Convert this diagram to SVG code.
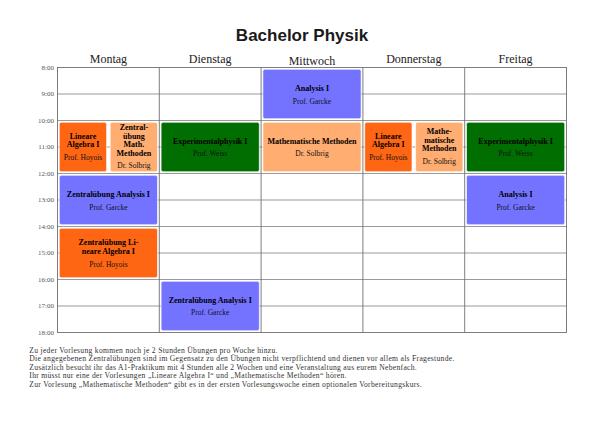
<svg xmlns="http://www.w3.org/2000/svg" width="605" height="428" viewBox="0 0 605 428">
<style>
.title{font-family:"Liberation Sans",Arial,sans-serif;font-weight:bold;font-size:17px;fill:#1a1a1a;text-anchor:middle}
.day{font-family:"Liberation Serif","Times New Roman",serif;font-size:12px;fill:#222;text-anchor:middle}
.time{font-family:"Liberation Serif","Times New Roman",serif;font-size:7px;fill:#555;text-anchor:end}
.hl{stroke:#9a9a9a;stroke-width:1.2;fill:none}
.vl{stroke:#707070;stroke-width:0.9;fill:none}
.ev{stroke:#ffffff;stroke-width:0.8;stroke-opacity:0.8}
.blue{fill:#7373ff}
.orange{fill:#ff6614}
.lorange{fill:#ffad70}
.green{fill:#006e00}
.t{font-family:"Liberation Serif","Times New Roman",serif;font-weight:bold;font-size:8px;fill:#000;text-anchor:middle}
.p{font-family:"Liberation Serif","Times New Roman",serif;font-size:7.5px;fill:#111;text-anchor:middle}
.note{font-family:"Liberation Serif","Times New Roman",serif;font-size:7.6px;letter-spacing:0.3px;fill:#333}
</style>
<rect width="605" height="428" fill="#ffffff"/>
<text class="title" x="302" y="40.7">Bachelor Physik</text>

<g id="headers">
<text class="day" x="108.4" y="63.3">Montag</text>
<text class="day" x="210.2" y="63.3">Dienstag</text>
<text class="day" x="312" y="65.3">Mittwoch</text>
<text class="day" x="413.8" y="63.3">Donnerstag</text>
<text class="day" x="515.6" y="63.3">Freitag</text>
</g>

<g id="times">
<text class="time" x="54" y="69.9">8:00</text>
<text class="time" x="54" y="96.4">9:00</text>
<text class="time" x="54" y="122.9">10:00</text>
<text class="time" x="54" y="149.4">11:00</text>
<text class="time" x="54" y="175.9">12:00</text>
<text class="time" x="54" y="202.4">13:00</text>
<text class="time" x="54" y="228.9">14:00</text>
<text class="time" x="54" y="255.4">15:00</text>
<text class="time" x="54" y="281.9">16:00</text>
<text class="time" x="54" y="308.4">17:00</text>
<text class="time" x="54" y="334.9">18:00</text>
</g>

<g id="grid">
<line class="hl" x1="57.5" y1="94" x2="566.5" y2="94"/>
<line class="hl" x1="57.5" y1="120.5" x2="566.5" y2="120.5"/>
<line class="hl" x1="57.5" y1="147" x2="566.5" y2="147"/>
<line class="hl" x1="57.5" y1="173.5" x2="566.5" y2="173.5"/>
<line class="hl" x1="57.5" y1="200" x2="566.5" y2="200"/>
<line class="hl" x1="57.5" y1="226.5" x2="566.5" y2="226.5"/>
<line class="hl" x1="57.5" y1="253" x2="566.5" y2="253"/>
<line class="hl" x1="57.5" y1="279.5" x2="566.5" y2="279.5"/>
<line class="hl" x1="57.5" y1="306" x2="566.5" y2="306"/>
<line class="vl" x1="159.3" y1="67.5" x2="159.3" y2="332.5"/>
<line class="vl" x1="261.1" y1="67.5" x2="261.1" y2="332.5"/>
<line class="vl" x1="362.9" y1="67.5" x2="362.9" y2="332.5"/>
<line class="vl" x1="464.7" y1="67.5" x2="464.7" y2="332.5"/>
<rect class="vl" x="57.5" y="67.5" width="509" height="265"/>
</g>

<g id="wed-analysis">
<rect class="ev blue" x="262.9" y="69.3" width="98.2" height="49.4" rx="2"/>
<text class="t" x="312" y="91">Analysis I</text>
<text class="p" x="312" y="103.6">Prof. Garcke</text>
</g>

<g id="mon-la">
<rect class="ev orange" x="59.3" y="122.3" width="47.3" height="49.4" rx="2"/>
<text class="t" x="83" y="138.5">Lineare</text>
<text class="t" x="83" y="147.1">Algebra I</text>
<text class="p" x="83" y="159.9">Prof. Hoyois</text>
</g>

<g id="mon-zmm">
<rect class="ev lorange" x="110.2" y="122.3" width="47.3" height="49.4" rx="2"/>
<text class="t" x="133.9" y="130.1">Zentral-</text>
<text class="t" x="133.9" y="138.8">übung</text>
<text class="t" x="133.9" y="147.1">Math.</text>
<text class="t" x="133.9" y="155.8">Methoden</text>
<text class="p" x="133.9" y="168.3">Dr. Solbrig</text>
</g>

<g id="tue-exp">
<rect class="ev green" x="161.1" y="122.3" width="98.2" height="49.4" rx="2"/>
<text class="t" x="210.2" y="143.5">Experimentalphysik I</text>
<text class="p" x="210.2" y="156.3">Prof. Weiss</text>
</g>

<g id="wed-mm">
<rect class="ev lorange" x="262.9" y="122.3" width="98.2" height="49.4" rx="2"/>
<text class="t" x="312" y="143.5">Mathematische Methoden</text>
<text class="p" x="312" y="156.3">Dr. Solbrig</text>
</g>

<g id="thu-la">
<rect class="ev orange" x="364.7" y="122.3" width="47.3" height="49.4" rx="2"/>
<text class="t" x="388.35" y="138.5">Lineare</text>
<text class="t" x="388.35" y="147.1">Algebra I</text>
<text class="p" x="388.35" y="159.9">Prof. Hoyois</text>
</g>

<g id="thu-mm">
<rect class="ev lorange" x="415.6" y="122.3" width="47.3" height="49.4" rx="2"/>
<text class="t" x="439.25" y="133.8">Mathe-</text>
<text class="t" x="439.25" y="142.5">matische</text>
<text class="t" x="439.25" y="151.1">Methoden</text>
<text class="p" x="439.25" y="164.3">Dr. Solbrig</text>
</g>

<g id="fri-exp">
<rect class="ev green" x="466.5" y="122.3" width="98.2" height="49.4" rx="2"/>
<text class="t" x="515.6" y="143.5">Experimentalphysik I</text>
<text class="p" x="515.6" y="156.3">Prof. Weiss</text>
</g>

<g id="mon-za">
<rect class="ev blue" x="59.3" y="175.3" width="98.2" height="49.4" rx="2"/>
<text class="t" x="108.4" y="196.8">Zentralübung Analysis I</text>
<text class="p" x="108.4" y="209.6">Prof. Garcke</text>
</g>

<g id="fri-analysis">
<rect class="ev blue" x="466.5" y="175.3" width="98.2" height="49.4" rx="2"/>
<text class="t" x="515.6" y="196.8">Analysis I</text>
<text class="p" x="515.6" y="209.6">Prof. Garcke</text>
</g>

<g id="mon-zla">
<rect class="ev orange" x="59.3" y="228.3" width="98.2" height="49.4" rx="2"/>
<text class="t" x="108.4" y="245.1">Zentralübung Li-</text>
<text class="t" x="108.4" y="253.8">neare Algebra I</text>
<text class="p" x="108.4" y="266.6">Prof. Hoyois</text>
</g>

<g id="tue-za">
<rect class="ev blue" x="161.1" y="281.3" width="98.2" height="49.4" rx="2"/>
<text class="t" x="210.2" y="302.5">Zentralübung Analysis I</text>
<text class="p" x="210.2" y="315.3">Prof. Garcke</text>
</g>

<g id="notes">
<text class="note" x="29.3" y="353">Zu jeder Vorlesung kommen noch je 2 Stunden Übungen pro Woche hinzu.</text>
<text class="note" x="29.3" y="361.3">Die angegebenen Zentralübungen sind im Gegensatz zu den Übungen nicht verpflichtend und dienen vor allem als Fragestunde.</text>
<text class="note" x="29.3" y="370">Zusätzlich besucht ihr das A1-Praktikum mit 4 Stunden alle 2 Wochen und eine Veranstaltung aus eurem Nebenfach.</text>
<text class="note" x="29.3" y="378.3">Ihr müsst nur eine der Vorlesungen „Lineare Algebra I“ und „Mathematische Methoden“ hören.</text>
<text class="note" x="29.3" y="387.3">Zur Vorlesung „Mathematische Methoden“ gibt es in der ersten Vorlesungswoche einen optionalen Vorbereitungskurs.</text>
</g>
</svg>
